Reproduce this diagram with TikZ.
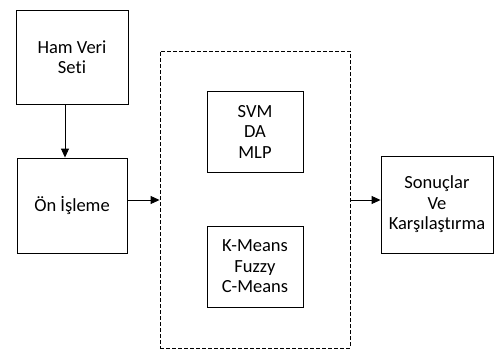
\documentclass[tikz,border=0pt]{standalone}
\usepackage{fontspec}
\setmainfont{Carlito}[Ligatures=NoCommon]
\usetikzlibrary{arrows.meta}

\begin{document}
\begin{tikzpicture}[x=1pt, y=-1pt,
  box/.style={draw, line width=0.9pt, align=center, inner sep=0pt,
    font=\fontsize{18.5}{20.5}\selectfont},
  arr/.style={line width=0.9pt, -{Triangle[length=9pt, width=8pt]}}]
  \useasboundingbox (0,0) rectangle (496,349);
  % input boxes
  \node[box, minimum width=112pt, minimum height=94pt] (ham) at (72,57) {Ham Veri\\Seti};
  \node[box, minimum width=110pt, minimum height=95pt] (onisleme) at (72,205.5) {Ön İşleme};
  % dashed group with the methods
  \node[draw, line width=0.9pt, dash pattern=on 4pt off 2pt, inner sep=0pt,
    minimum width=190pt, minimum height=297pt] (grup) at (255,199.5) {};
  \node[box, minimum width=96pt, minimum height=81pt] (svm) at (255,131.5) {SVM\\DA\\MLP};
  \node[box, minimum width=96pt, minimum height=81pt] (kmeans) at (255,266.5) {K-Means\\Fuzzy\\C-Means};
  % output box
  \node[box, minimum width=112pt, minimum height=97pt] (sonuc) at (437,204.5) {Sonuçlar\\Ve\\Karşılaştırma};
  % arrows
  \draw[arr] ([xshift=-7pt]ham.south) -- ([xshift=-7pt]onisleme.north);
  \draw[arr] ([yshift=5.5pt]onisleme.east) -- ([yshift=5.5pt]onisleme.east -| grup.west);
  \draw[arr] (grup.east |- 0,200) -- (sonuc.west |- 0,200);
\end{tikzpicture}
\end{document}
